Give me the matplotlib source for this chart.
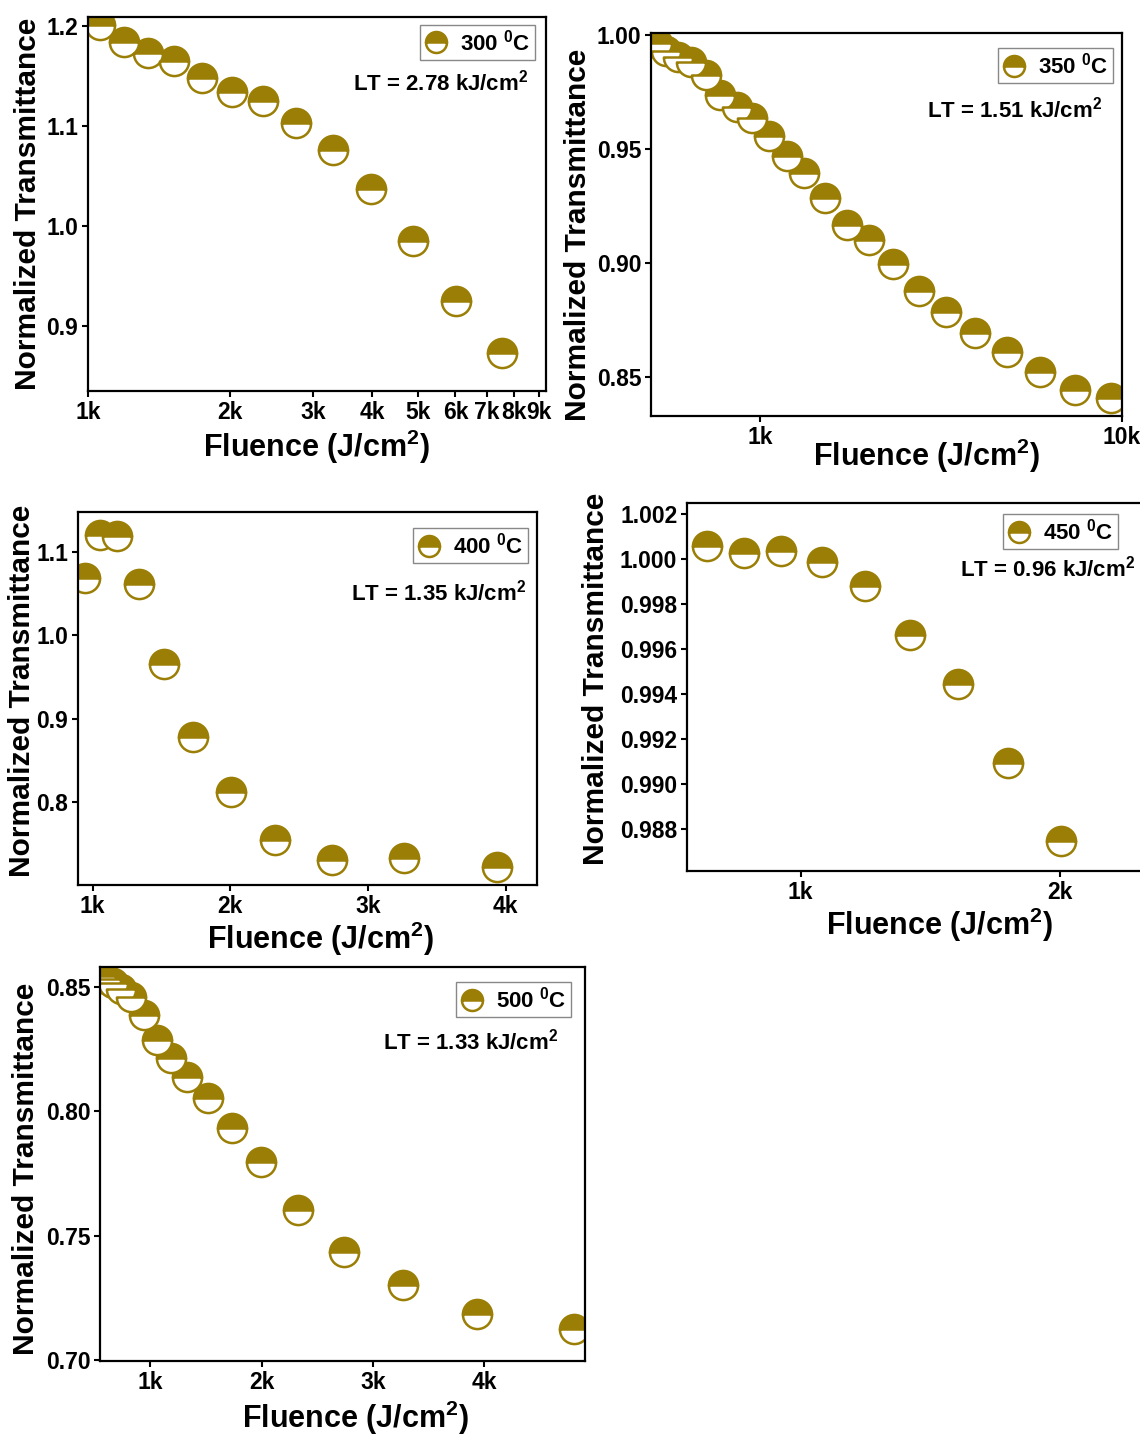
import matplotlib
matplotlib.use("Agg")
import matplotlib.pyplot as plt
from matplotlib.ticker import FixedLocator, FuncFormatter, NullLocator

plt.rcParams['font.family'] = ['Liberation Sans', 'DejaVu Sans']
plt.rcParams['font.weight'] = 'bold'
plt.rcParams['axes.labelweight'] = 'bold'
plt.rcParams['mathtext.fontset'] = 'custom'
plt.rcParams['mathtext.rm'] = 'Liberation Sans:bold'
plt.rcParams['mathtext.bf'] = 'Liberation Sans:bold'
plt.rcParams['mathtext.it'] = 'Liberation Sans:bold'
plt.rcParams['mathtext.default'] = 'rm'

# ---------------- data ----------------
f300 = [1060, 1189, 1338, 1521, 1746, 2017, 2351, 2761, 3306, 3977, 4870, 6020, 7527]
t300 = [1.201, 1.184, 1.173, 1.165, 1.148, 1.134, 1.125, 1.103, 1.076, 1.037, 0.985, 0.925, 0.873]

f350 = [519, 550, 595, 645, 709, 774, 862, 952, 1058, 1190, 1323, 1513, 1734, 1996,
        2326, 2743, 3257, 3930, 4800, 5918, 7420, 9318]
t350 = [0.9964, 0.9932, 0.9905, 0.9883, 0.9827, 0.9740, 0.9684, 0.9636, 0.9557, 0.9470,
        0.9397, 0.9286, 0.9170, 0.9104, 0.8995, 0.8880, 0.8786, 0.8694, 0.8611, 0.8522,
        0.8446, 0.8410]

f400 = [946, 1057, 1179, 1334, 1516, 1731, 2003, 2327, 2742, 3261, 3935]
t400 = [1.0689, 1.1207, 1.1187, 1.0621, 0.9664, 0.8786, 0.8128, 0.7550, 0.7310, 0.7330, 0.7230]

f450 = [639, 782, 926, 1083, 1248, 1420, 1605, 1798, 2004]
t450 = [1.00056, 1.00027, 1.00038, 0.99987, 0.99879, 0.99662, 0.99447, 0.99096, 0.98748]

f500 = [555, 608, 670, 740, 830, 948, 1058, 1185, 1333, 1515, 1735, 1996, 2329, 2741,
        3266, 3932, 4800]
t500 = [0.8545, 0.8532, 0.8515, 0.8492, 0.8460, 0.8386, 0.8288, 0.8213, 0.8136, 0.8052,
        0.7934, 0.7795, 0.7604, 0.7434, 0.7301, 0.7183, 0.7123]

labels = ["300 $^0$C", "350 $^0$C", "400 $^0$C", "450 $^0$C", "500 $^0$C"]
lt_texts = ["LT = 2.78 kJ/cm$^2$", "LT = 1.51 kJ/cm$^2$", "LT = 1.35 kJ/cm$^2$",
            "LT = 0.96 kJ/cm$^2$", "LT = 1.33 kJ/cm$^2$"]
yticks = [[0.9, 1.0, 1.1, 1.2], [0.85, 0.90, 0.95, 1.00], [0.8, 0.9, 1.0, 1.1],
          [0.988, 0.990, 0.992, 0.994, 0.996, 0.998, 1.000, 1.002], [0.70, 0.75, 0.80, 0.85]]
ydec = [1, 2, 1, 3, 2]
xticks = [[1000, 2000, 3000, 4000, 5000, 6000, 7000, 8000, 9000], [1000, 10000],
          [1000, 2000, 3000, 4000], [1000, 2000], [1000, 2000, 3000, 4000]]

# ---------------- layout ----------------
W, H = 1140, 1435
fig = plt.figure(figsize=(W / 100, H / 100), dpi=100)

def ax_at(l, r, t, b):
    return fig.add_axes([l / W, 1 - b / H, (r - l) / W, (b - t) / H])

panels = [
    dict(box=(88, 546, 17, 391), xlim=(1000, 9330), ylim=(0.835, 1.209), log=True,
         data=(f300, t300), leg=(0.976, 0.979), lt=(0.961, 0.826), ylab=(-0.131, 0.5), xlab=(0.5, -0.150)),
    dict(box=(651, 1122, 33, 416), xlim=(500, 10000), ylim=(0.833, 1.001), log=True,
         data=(f350, t350), leg=(0.981, 0.961), lt=(0.958, 0.799), ylab=(-0.155, 0.473), xlab=(0.584, -0.104)),
    dict(box=(78, 537, 512, 885), xlim=(894, 4228), ylim=(0.701, 1.148), log=False,
         data=(f400, t400), leg=(0.980, 0.957), lt=(0.976, 0.783), ylab=(-0.122, 0.52), xlab=(0.529, -0.145)),
    dict(box=(687, 1151, 503, 871), xlim=(562, 2350), ylim=(0.98615, 1.00249), log=False,
         data=(f450, t450), leg=(0.929, 0.970), lt=(0.9655, 0.821), ylab=(-0.196, 0.522), xlab=(0.545, -0.147)),
    dict(box=(100, 585, 967, 1361), xlim=(550, 4903), ylim=(0.6996, 0.858), log=False,
         data=(f500, t500), leg=(0.971, 0.962), lt=(0.944, 0.81), ylab=(-0.153, 0.487), xlab=(0.526, -0.145)),
]

olive = "#9a7e05"
kfmt = FuncFormatter(lambda v, p: f"{int(round(v / 1000))}k")

for i, p in enumerate(panels):
    ax = ax_at(*p['box'])
    x, y = p['data']
    ax.plot(x, y, linestyle='none', marker='o', markersize=21, fillstyle='top',
            markerfacecolor=olive, markerfacecoloralt='white', markeredgecolor=olive,
            markeredgewidth=1.8, label=labels[i])
    if p['log']:
        ax.set_xscale('log')
    ax.set_xlim(*p['xlim'])
    ax.set_ylim(*p['ylim'])
    ax.xaxis.set_major_locator(FixedLocator(xticks[i]))
    ax.xaxis.set_major_formatter(kfmt)
    ax.xaxis.set_minor_locator(NullLocator())
    ax.yaxis.set_major_locator(FixedLocator(yticks[i]))
    d = ydec[i]
    ax.yaxis.set_major_formatter(FuncFormatter(lambda v, pos, d=d: f"{v:.{d}f}"))
    ax.yaxis.set_minor_locator(NullLocator())
    for s in ax.spines.values():
        s.set_linewidth(1.6)
    ax.tick_params(axis='both', direction='out', length=4, width=1.5, labelsize=16.5, pad=3)
    for lab in ax.get_xticklabels() + ax.get_yticklabels():
        lab.set_fontweight('bold')
    ax.set_xlabel("Fluence (J/cm$^2$)", fontsize=22, fontweight='bold')
    ax.set_ylabel("Normalized Transmittance", fontsize=21.5, fontweight='bold')
    ax.xaxis.label.set_va('center')
    ax.yaxis.label.set_va('center')
    ax.xaxis.set_label_coords(*p['xlab'])
    ax.yaxis.set_label_coords(*p['ylab'])
    leg = ax.legend(loc='upper right', bbox_to_anchor=p['leg'], borderaxespad=0,
                    fontsize=16, frameon=True, fancybox=False, framealpha=1,
                    edgecolor='#888888', handlelength=1.0, handletextpad=0.6,
                    borderpad=0.2, markerscale=0.72)
    leg.get_frame().set_linewidth(1.0)
    for t in leg.get_texts():
        t.set_fontweight('bold')
    ax.text(p['lt'][0], p['lt'][1], lt_texts[i], transform=ax.transAxes, ha='right',
            va='center', fontsize=16, fontweight='bold')

fig.savefig("out.png", dpi=100)
